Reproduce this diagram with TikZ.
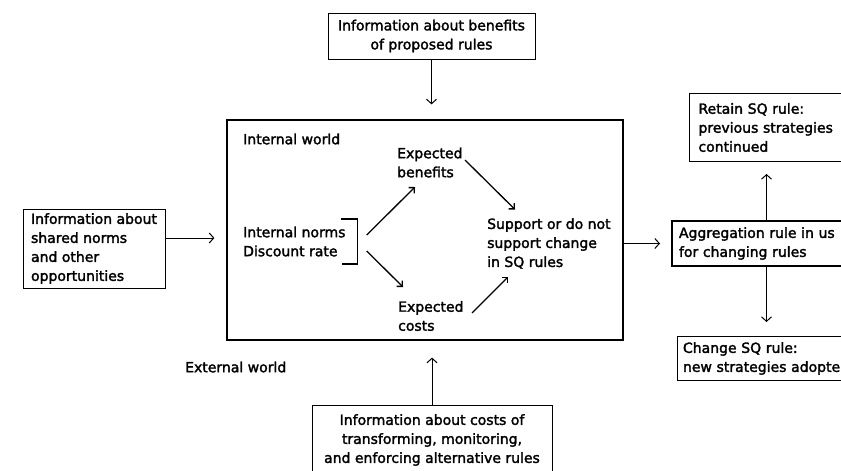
\documentclass[tikz,border=0pt]{standalone}
\usepackage{fontspec}
\setmainfont{DejaVu Sans}[BoldFont=DejaVu Sans, BoldFeatures={FakeBold=2}]
\usetikzlibrary{arrows.meta,calc}

\begin{document}
\begin{tikzpicture}[x=1pt,y=-1pt,
  every node/.style={font=\fontsize{14}{19}\selectfont\bfseries, inner sep=0pt},
  infobox/.style={draw, line width=1pt},
  label/.style={anchor=west, align=left},
  arr/.style={line width=1pt, -{Straight Barb[length=4.5pt,width=10pt]}},
  innerarr/.style={line width=1.3pt, -{Straight Barb[length=4pt,width=8pt]}},
  bracket/.style={line width=1.3pt}]

\useasboundingbox (0,0) rectangle (841,471);
\clip (0,0) rectangle (841,471);

% outer frame: the internal world
\node[draw, line width=1.2pt, minimum width=396pt, minimum height=220pt] (inner) at (425,230) {};
\node[label] (intw) at (243,139) {Internal world};
\node[label] (extw) at (185,367) {External world};

% information entering from outside
\node[infobox, minimum width=207pt, minimum height=46pt, align=center] (topinfo) at (431.5,36)
  {Information about benefits\\of proposed rules};
\node[infobox, minimum width=142pt, minimum height=79pt, align=left] (leftinfo) at (94,248.5)
  {Information about\\shared norms\\and other\\opportunities};
\node[infobox, minimum width=240pt, minimum height=70pt, align=center] (botinfo) at (432,440)
  {Information about costs of\\transforming, monitoring,\\and enforcing alternative rules};

% contents of the internal world
\node[label] (norms) at (243,241.5) {Internal norms\\Discount rate};
\node[label] (benefits) at (397,162.5) {Expected\\benefits};
\node[label] (costs) at (398,316) {Expected\\costs};
\node[label] (support) at (487,243.5) {Support or do not\\support change\\in SQ rules};

\draw[bracket] ($(norms.east)+(-5,-22.5)$) -| ($(norms.east)+(12,22.5)$) -- ($(norms.east)+(-4,22.5)$);

\draw[innerarr] ($(norms.east)+(21,-6.5)$) -- ($(benefits.west)+(18,24.5)$);
\draw[innerarr] ($(norms.east)+(21,9.5)$) -- ($(costs.west)+(5,-29)$);
\draw[innerarr] ($(benefits.west)+(68,-2.5)$) -- ($(support.west)+(28,-34)$);
\draw[innerarr] ($(costs.west)+(74,-3)$) -- ($(support.west)+(21,33.5)$);

% collective choice and its outcomes (running past the right edge)
\node[draw, line width=2pt, anchor=north west, minimum height=45pt, text width=175pt,
  inner xsep=7pt, align=left] (agg) at (671,220)
  {Aggregation rule in us\\for changing rules};
\node[infobox, anchor=north west, minimum height=68pt, text width=150pt,
  inner xsep=9pt, align=left] (retain) at (689,93)
  {Retain SQ rule:\\previous strategies\\continued};
\node[infobox, anchor=north west, minimum height=44pt, text width=175pt,
  inner xsep=5.5pt, align=left] (change) at (677,336)
  {Change SQ rule:\\new strategies adopte};

% connectors
\draw[arr, shorten >=15pt] (topinfo.south) -- (topinfo.south |- inner.north);
\draw[arr, shorten >=17pt] (botinfo.north) -- (botinfo.north |- inner.south);
\draw[arr, shorten >=12pt] ([yshift=10.5pt]leftinfo.east) -- ([yshift=10.5pt]leftinfo.east -| inner.west);
\draw[arr, shorten >=11pt] (agg.west -| inner.east) -- (agg.west);
\draw[arr, shorten >=12pt] (agg.north) -- (agg.north |- retain.south);
\draw[arr, shorten >=14pt] (agg.south) -- (agg.south |- change.north);

\end{tikzpicture}
\end{document}
